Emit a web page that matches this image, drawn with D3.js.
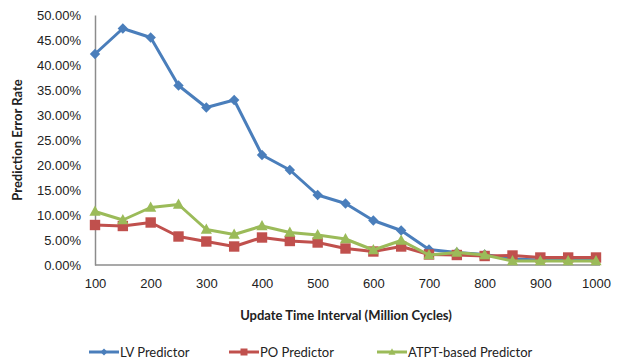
<!DOCTYPE html>
<html>
<head>
<meta charset="utf-8">
<script src="https://cdn.jsdelivr.net/npm/d3@7"></script>
<style>
  html, body { margin: 0; padding: 0; background: #fff; }
  svg { display: block; font-family: Lato, "Open Sans", sans-serif; }
</style>
</head>
<body>
<svg id="chart" width="618" height="364"></svg>
<script>
// Update interval (million cycles)
const intervals = [100, 150, 200, 250, 300, 350, 400, 450, 500, 550, 600, 650, 700, 750, 800, 850, 900, 950, 1000];
const xTickLabels = [100, 200, 300, 400, 500, 600, 700, 800, 900, 1000];
const yTicks = [0, 5, 10, 15, 20, 25, 30, 35, 40, 45, 50];

// Prediction error rate (%) per predictor
const lvPredictor   = [42.2, 47.3, 45.5, 35.9, 31.5, 33.0, 22.0, 19.0, 14.0, 12.3, 8.9, 6.9, 3.1, 2.5, 2.1, 1.2, 1.0, 1.0, 1.0];
const poPredictor   = [8.0, 7.8, 8.5, 5.7, 4.7, 3.7, 5.5, 4.8, 4.5, 3.3, 2.7, 3.7, 2.1, 2.0, 1.8, 1.9, 1.5, 1.5, 1.5];
const atptPredictor = [10.7, 9.0, 11.5, 12.1, 7.1, 6.1, 7.8, 6.5, 6.0, 5.2, 3.0, 4.9, 2.0, 2.5, 2.0, 0.8, 0.8, 0.8, 0.8];

const seriesNames = ["LV Predictor", "PO Predictor", "ATPT-based Predictor"];
const seriesColors = ["#4A7EBB", "#C0504D", "#9BBB59"];

// Marker shapes: square-diamond, square, triangle (size = half-width in px)
const diamondShape = {
  draw(ctx, r) { ctx.moveTo(0, -r); ctx.lineTo(r, 0); ctx.lineTo(0, r); ctx.lineTo(-r, 0); ctx.closePath(); }
};
const squareShape = {
  draw(ctx, r) { ctx.rect(-r, -r, 2 * r, 2 * r); }
};
const triangleShape = {
  draw(ctx, r) { ctx.moveTo(0, -r * 1.05); ctx.lineTo(r, r * 0.75); ctx.lineTo(-r, r * 0.75); ctx.closePath(); }
};
const seriesSymbols = [diamondShape, squareShape, triangleShape];
const markerHalf = [5.2, 5.2, 5.6];

const series = [lvPredictor, poPredictor, atptPredictor].map((vals, i) => ({
  name: seriesNames[i],
  color: seriesColors[i],
  symbol: seriesSymbols[i],
  half: markerHalf[i],
  points: intervals.map((x, j) => ({ x, v: vals[j] }))
}));

const svg = d3.select("#chart");
const plot = { left: 95, right: 596, top: 15, bottom: 265 };

const x = d3.scaleLinear().domain([100, 1000]).range([plot.left, plot.right]);
const y = d3.scaleLinear().domain([0, 50]).range([plot.bottom, plot.top]);

const textColor = "#222";
const axisColor = "#8c8c8c";
const fontSize = "13px";

// Y axis
const yAxis = d3.axisLeft(y).tickValues(yTicks).tickSize(0).tickPadding(14)
  .tickFormat(d => d.toFixed(2) + "%");
const gy = svg.append("g").attr("transform", `translate(${plot.left},0)`).call(yAxis);
gy.select(".domain").attr("stroke", axisColor).attr("stroke-width", 1.5);
gy.selectAll("text").attr("fill", textColor).style("font-size", fontSize);

// X axis
const xAxis = d3.axisBottom(x).tickValues(xTickLabels).tickSize(0).tickPadding(14)
  .tickFormat(d3.format("d"));
const gx = svg.append("g").attr("transform", `translate(0,${plot.bottom})`).call(xAxis);
gx.select(".domain").attr("stroke", axisColor).attr("stroke-width", 1.5)
  .attr("d", `M${plot.left},0H${plot.right + 4}`);
gx.selectAll("text").attr("fill", textColor).style("font-size", fontSize);

// Axis titles
svg.append("text")
  .attr("transform", `translate(22,${(plot.top + plot.bottom) / 2}) rotate(-90)`)
  .attr("text-anchor", "middle")
  .attr("fill", textColor)
  .style("font-size", fontSize).style("font-weight", "bold")
  .text("Prediction Error Rate");

svg.append("text")
  .attr("x", 346).attr("y", 320)
  .attr("text-anchor", "middle")
  .attr("fill", textColor)
  .style("font-size", fontSize).style("font-weight", "bold")
  .text("Update Time Interval (Million Cycles)");

// Series lines and markers
const line = d3.line().x(d => x(d.x)).y(d => y(d.v));

series.forEach(s => {
  const g = svg.append("g");
  g.append("path")
    .datum(s.points)
    .attr("fill", "none")
    .attr("stroke", s.color)
    .attr("stroke-width", 3)
    .attr("stroke-linejoin", "round")
    .attr("d", line);
  g.selectAll("path.m")
    .data(s.points)
    .join("path")
    .attr("class", "m")
    .attr("transform", d => `translate(${x(d.x)},${y(d.v)})`)
    .attr("d", d3.symbol().type(s.symbol).size(s.half))
    .attr("fill", s.color);
});

// Legend
const legendX = [89, 229, 377];
const legendY = 352;
series.forEach(s => {
  const i = series.indexOf(s);
  const g = svg.append("g").attr("transform", `translate(${legendX[i]},${legendY})`);
  g.append("line").attr("x1", 0).attr("x2", 30).attr("y1", 0).attr("y2", 0)
    .attr("stroke", s.color).attr("stroke-width", 3);
  g.append("path").attr("transform", "translate(15,0)")
    .attr("d", d3.symbol().type(s.symbol).size(3.5)).attr("fill", s.color);
  g.append("text").attr("x", 31).attr("y", 0).attr("dy", "0.35em")
    .attr("fill", textColor).style("font-size", fontSize)
    .text(s.name);
});
</script>
</body>
</html>
